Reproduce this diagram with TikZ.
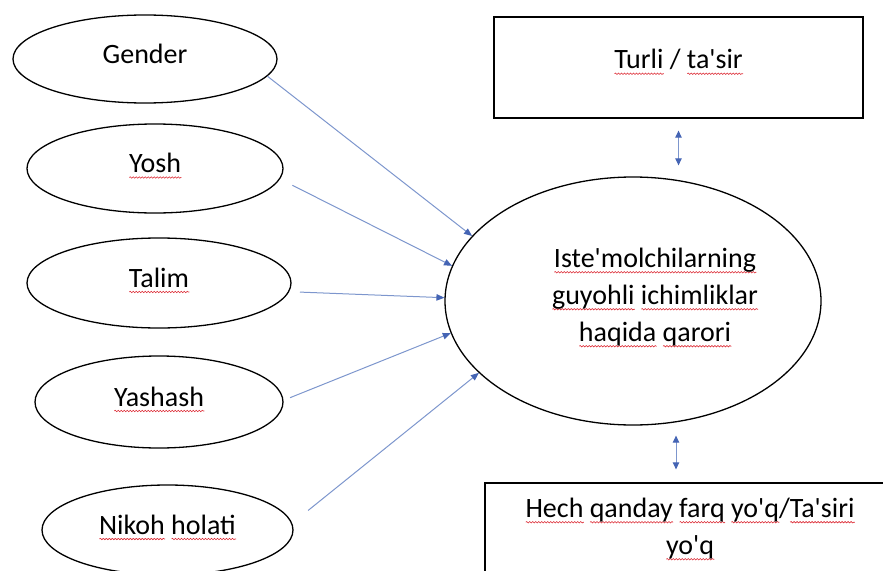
\documentclass[tikz,border=0pt]{standalone}
\usepackage{fontspec}
\usetikzlibrary{arrows.meta,shapes.geometric,decorations.pathmorphing}
\newfontfamily\calfont{Carlito}
\definecolor{spellred}{RGB}{220,40,50}
\definecolor{linkblue}{RGB}{125,150,205}
\definecolor{tipblue}{RGB}{68,100,180}
\newsavebox\sqbox
\newcommand\sq[1]{\sbox\sqbox{#1}\leavevmode\rlap{\tikz[baseline=0pt,x=1pt,y=1pt]\draw[spellred, line width=0.6pt, decorate, decoration={snake, amplitude=0.7pt, segment length=3pt}] (0pt,-5pt) -- (\wd\sqbox,-5pt);}\usebox\sqbox}
\tikzset{
  every node/.style={font=\calfont\fontsize{28}{37}\selectfont, text=black},
  oval/.style={draw=black, line width=1.3pt, ellipse, inner sep=0pt, text height=18pt, text depth=10pt},
  framebox/.style={draw=black, line width=1.3pt, rectangle, inner sep=0pt},
  arr/.style={draw=linkblue, line width=1pt, -{Triangle[length=8pt,width=6.5pt,fill=tipblue,color=tipblue]}},
  darr/.style={draw=linkblue, line width=1pt, {Triangle[length=7pt,width=6.5pt,fill=tipblue,color=tipblue]}-{Triangle[length=7pt,width=6.5pt,fill=tipblue,color=tipblue]}}
}
\begin{document}
\begin{tikzpicture}[x=1pt,y=-1pt]
\useasboundingbox (0,0) rectangle (883,570);
\clip (0,0) rectangle (883,570);
% left ovals
\node[oval, minimum width=264pt, minimum height=88pt] (gender) at (145,59) {Gender};
\node[oval, minimum width=256pt, minimum height=89pt] (yosh) at (155,168.5) {\sq{Yosh}};
\node[oval, minimum width=264pt, minimum height=90pt] (talim) at (159,283) {\sq{Talim}};
\node[oval, minimum width=248pt, minimum height=92pt] (yashash) at (159,402) {\sq{Yashash}};
\node[oval, minimum width=251pt, minimum height=90pt] (nikoh) at (167.5,530) {\sq{Nikoh} \sq{holati}};
% main oval
\node[draw=black, line width=1.3pt, ellipse, inner sep=0pt, minimum width=376pt, minimum height=248pt] (main) at (633,301) {};
\node[align=center, inner sep=0pt] (maintext) at (655,297.5) {\sq{Iste'molchilarning}\\\sq{guyohli} \sq{ichimliklar}\\\sq{haqida} \sq{qarori}};
% boxes
\node[framebox, minimum width=369pt, minimum height=101pt] (topbox) at (678.5,67.5) {};
\node[inner sep=0pt] (toptext) at (678.5,62) {\sq{Turli} / \sq{ta'sir}};
\node[framebox, minimum width=410pt, minimum height=92pt, align=center] (botbox) at (690,529) {\sq{Hech} \sq{qanday} \sq{farq} \sq{yo'q}/\sq{Ta'siri}\\\sq{yo'q}};
% arrows
\draw[arr] (gender.-8) -- (main.158);
\draw[arr] ([xshift=18pt]yosh.-8) -- (main.169);
\draw[arr] ([xshift=11pt]talim.-4) -- (main.179);
\draw[arr] ([xshift=7pt]yashash.2) -- (main.-170);
\draw[arr] ([xshift=23pt,yshift=3pt]nikoh.8) -- (main.-155.5);
% double arrows
\draw[darr] ([yshift=-12pt]topbox.south) -- ([yshift=11pt]topbox.south |- main.north);
\draw[darr] ([xshift=-14pt,yshift=-10pt]botbox.north |- main.south) -- ([xshift=-14pt,yshift=13pt]botbox.north);
\end{tikzpicture}
\end{document}
